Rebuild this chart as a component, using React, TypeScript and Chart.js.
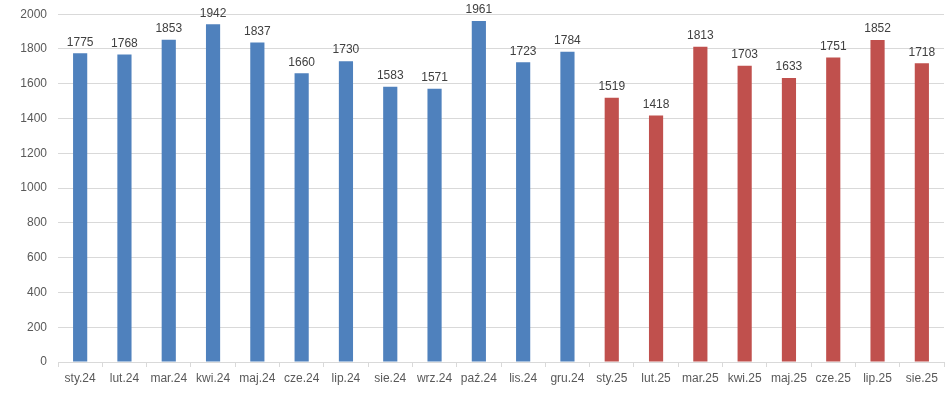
import React, { useEffect, useRef } from "react";
import { Chart, registerables } from "chart.js";

Chart.register(...registerables);

const categories = [
  "sty.24", "lut.24", "mar.24", "kwi.24", "maj.24", "cze.24", "lip.24", "sie.24", "wrz.24", "paź.24", "lis.24", "gru.24",
  "sty.25", "lut.25", "mar.25", "kwi.25", "maj.25", "cze.25", "lip.25", "sie.25",
];
const values = [1775, 1768, 1853, 1942, 1837, 1660, 1730, 1583, 1571, 1961, 1723, 1784, 1519, 1418, 1813, 1703, 1633, 1751, 1852, 1718];
const yearOfBar = [2024, 2024, 2024, 2024, 2024, 2024, 2024, 2024, 2024, 2024, 2024, 2024, 2025, 2025, 2025, 2025, 2025, 2025, 2025, 2025];

const FONT = "'Liberation Sans', Arial, sans-serif";
const TEXT = "#595959";

const labelPlugin = {
  id: "barLabels",
  afterDatasetsDraw(chart: any) {
    const ctx = chart.ctx;
    const meta = chart.getDatasetMeta(0);
    ctx.save();
    ctx.font = `12px ${FONT}`;
    ctx.fillStyle = "#404040";
    ctx.textAlign = "center";
    ctx.textBaseline = "bottom";
    meta.data.forEach((el: any, i: number) => {
      ctx.fillText(String(values[i]), el.x, el.y - 5);
    });
    ctx.restore();
  },
};

export default function App() {
  const ref = useRef<HTMLCanvasElement>(null);
  useEffect(() => {
    document.body.style.margin = "0";
    document.body.style.overflow = "hidden";
    const chart = new Chart(ref.current!, {
      type: "bar",
      data: {
        labels: categories,
        datasets: [
          {
            data: values,
            backgroundColor: yearOfBar.map((y) => (y === 2024 ? "#4F81BD" : "#C0504D")),
            barPercentage: 0.32,
            categoryPercentage: 1,
          },
        ],
      },
      options: {
        animation: false,
        responsive: false,
        maintainAspectRatio: false,
        layout: { padding: { left: 0, right: 4, top: 10, bottom: 0 } },
        plugins: { legend: { display: false }, tooltip: { enabled: false } },
        scales: {
          x: {
            grid: {
              offset: true,
              drawOnChartArea: false,
              drawTicks: true,
              tickLength: 5,
              color: "#D9D9D9",
            },
            border: { color: "#D9D9D9" },
            ticks: { color: TEXT, font: { family: FONT, size: 12 }, padding: 4, maxRotation: 0, autoSkip: false },
            afterFit(scale: any) {
              scale.height = 41;
            },
          },
          y: {
            min: 0,
            max: 2000,
            ticks: {
              stepSize: 200,
              color: TEXT,
              font: { family: FONT, size: 12 },
              padding: 11,
              callback: (v: any) => String(v),
            },
            grid: { color: "#D9D9D9", drawTicks: false },
            border: { display: false },
            afterFit(scale: any) {
              scale.width = 58;
            },
          },
        },
      },
      plugins: [labelPlugin],
    });
    return () => chart.destroy();
  }, []);
  return (
    <canvas ref={ref} width={948} height={407} style={{ display: "block", marginTop: -4 }} />
  );
}
